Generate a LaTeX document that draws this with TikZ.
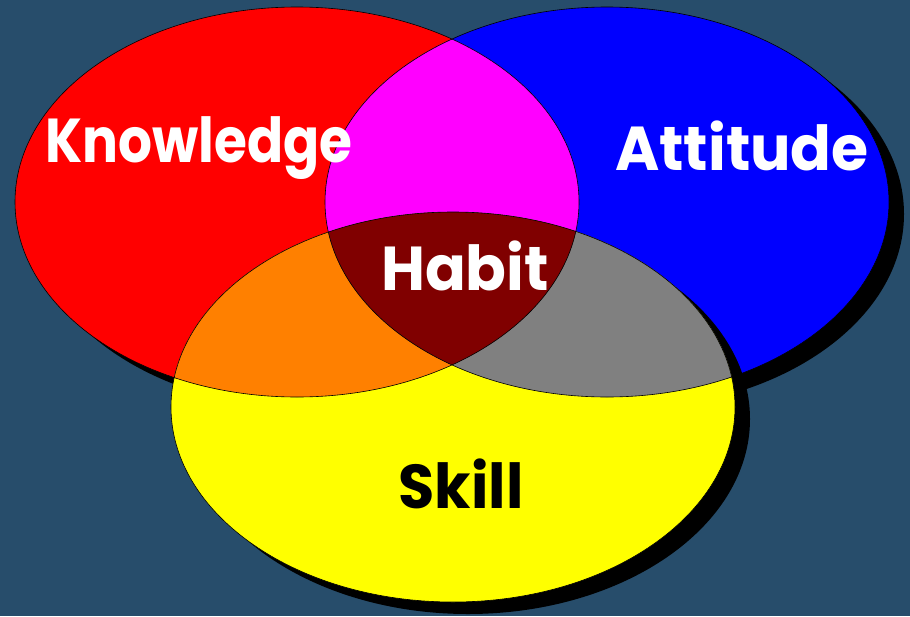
\documentclass[tikz,border=0pt]{standalone}
\usepackage{fontspec}
\newfontfamily\comicfont{Poppins}
\definecolor{bgblue}{RGB}{39,77,107}
\definecolor{kred}{RGB}{255,0,0}
\definecolor{ablue}{RGB}{0,0,255}
\definecolor{syellow}{RGB}{255,255,0}
\definecolor{kamag}{RGB}{255,0,255}
\definecolor{ksorange}{RGB}{255,128,0}
\definecolor{asgray}{RGB}{128,128,128}
\definecolor{habitred}{RGB}{128,0,0}
\begin{document}
\begin{tikzpicture}[x=1pt,y=-1pt,
  outline/.style={draw=black, line width=0.6pt},
  lbl/.style={font=\comicfont\bfseries\fontsize{62}{66}\selectfont, anchor=base, inner sep=0pt, transform shape}]
\fill[bgblue] (0,0) rectangle (910,616);
\useasboundingbox (0,0) rectangle (910,616);
\coordinate (K) at (297,202);
\coordinate (A) at (607,202);
\coordinate (S) at (453,407);
\coordinate (Ks) at (312,214);
\coordinate (As) at (622,214);
\coordinate (Ss) at (468,419);
% red with shadow
\fill[black] (Ks) ellipse [x radius=282pt, y radius=195pt];
\fill[kred] (K) ellipse [x radius=282pt, y radius=195pt];
% blue with shadow
\fill[black] (As) ellipse [x radius=282pt, y radius=195pt];
\fill[ablue] (A) ellipse [x radius=282pt, y radius=195pt];
% yellow with shadow
\fill[black] (Ss) ellipse [x radius=282pt, y radius=195pt];
\fill[syellow] (S) ellipse [x radius=282pt, y radius=195pt];
% overlaps
\begin{scope}
  \clip (K) ellipse [x radius=282pt, y radius=195pt];
  \fill[kamag] (A) ellipse [x radius=282pt, y radius=195pt];
  \fill[ksorange] (S) ellipse [x radius=282pt, y radius=195pt];
\end{scope}
\begin{scope}
  \clip (A) ellipse [x radius=282pt, y radius=195pt];
  \fill[asgray] (S) ellipse [x radius=282pt, y radius=195pt];
\end{scope}
\begin{scope}
  \clip (K) ellipse [x radius=282pt, y radius=195pt];
  \clip (A) ellipse [x radius=282pt, y radius=195pt];
  \fill[habitred] (S) ellipse [x radius=282pt, y radius=195pt];
\end{scope}
% outlines
\draw[outline] (K) ellipse [x radius=282pt, y radius=195pt];
\draw[outline] (A) ellipse [x radius=282pt, y radius=195pt];
\draw[outline] (S) ellipse [x radius=282pt, y radius=195pt];
% labels
\node[lbl, text=white, xscale=0.86] (knowledge) at (199,162) {Knowledge};
\node[lbl, text=white, xscale=0.97] (attitude) at (742,170) {Attitude};
\node[lbl, text=white, xscale=0.97] (habit) at (465,290) {Habit};
\node[lbl, text=black, xscale=0.95] (skill) at (461,508) {Skill};
\end{tikzpicture}
\end{document}
